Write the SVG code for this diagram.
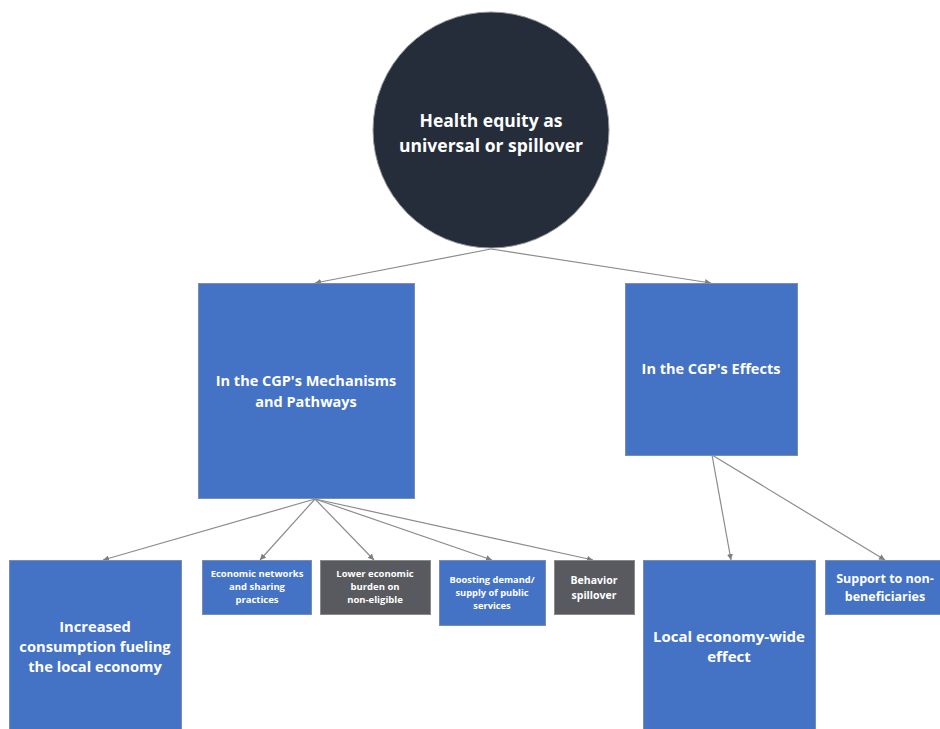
<svg xmlns="http://www.w3.org/2000/svg" width="940" height="729" viewBox="0 0 940 729">
  <style>
    .box { fill: #4472C4; stroke: #7f8ea8; stroke-width: 1; }
    .dark { fill: #595A5F; stroke: #8a8a8a; stroke-width: 1; }
    .t { font-family: "Open Sans", "Noto Sans", "Liberation Sans", sans-serif; font-weight: bold; fill: #ffffff; text-anchor: middle; }
    .edge { stroke: #8c8c8c; stroke-width: 1.2; fill: none; marker-end: url(#arrow); }
  </style>
  <defs>
    <marker id="arrow" viewBox="0 0 10 10" refX="10" refY="5" markerWidth="6" markerHeight="6" markerUnits="userSpaceOnUse" orient="auto">
      <path d="M0,0 L10,5 L0,10 z" fill="#7f7f7f"/>
    </marker>
  </defs>
  <rect width="940" height="729" fill="#ffffff"/>

  <g id="connectors">
    <line class="edge" x1="491" y1="249" x2="315" y2="283"/>
    <line class="edge" x1="491" y1="249" x2="711" y2="283"/>
    <line class="edge" x1="315" y1="499" x2="103" y2="560"/>
    <line class="edge" x1="315" y1="499" x2="260" y2="560"/>
    <line class="edge" x1="315" y1="499" x2="374" y2="560"/>
    <line class="edge" x1="315" y1="499" x2="492" y2="560"/>
    <line class="edge" x1="315" y1="499" x2="593" y2="560"/>
    <line class="edge" x1="712" y1="455" x2="731" y2="560"/>
    <line class="edge" x1="712" y1="455" x2="885" y2="560"/>
  </g>

  <g id="root">
    <circle cx="491" cy="130" r="118" fill="#252D3B" stroke="#9a9a9a" stroke-width="1"/>
    <text class="t" x="491" y="127" font-size="17.5">Health equity as</text>
    <text class="t" x="491" y="152" font-size="17.5">universal or spillover</text>
  </g>

  <g id="mechanisms">
    <rect class="box" x="198.5" y="283.5" width="216" height="215"/>
    <text class="t" x="306" y="386" font-size="14.5">In the CGP's Mechanisms</text>
    <text class="t" x="306" y="407" font-size="14.5">and Pathways</text>
  </g>

  <g id="effects">
    <rect class="box" x="625.5" y="283.5" width="172" height="172"/>
    <text class="t" x="711" y="374" font-size="14.5">In the CGP's Effects</text>
  </g>

  <g id="consumption">
    <rect class="box" x="9.5" y="560.5" width="172" height="172"/>
    <text class="t" x="95" y="632" font-size="14.7">Increased</text>
    <text class="t" x="95" y="652" font-size="14.7">consumption fueling</text>
    <text class="t" x="95" y="672" font-size="14.7">the local economy</text>
  </g>

  <g id="networks">
    <rect class="box" x="202.5" y="560.5" width="109" height="54"/>
    <text class="t" x="257" y="577" font-size="9.5">Economic networks</text>
    <text class="t" x="257" y="590" font-size="9.5">and sharing</text>
    <text class="t" x="257" y="603" font-size="9.5">practices</text>
  </g>

  <g id="burden">
    <rect class="dark" x="320.5" y="560.5" width="110" height="54"/>
    <text class="t" x="375" y="577" font-size="9.5">Lower economic</text>
    <text class="t" x="375" y="590" font-size="9.5">burden on</text>
    <text class="t" x="375" y="603" font-size="9.5">non-eligible</text>
  </g>

  <g id="services">
    <rect class="box" x="439.5" y="560.5" width="106" height="65"/>
    <text class="t" x="492" y="583" font-size="9.3">Boosting demand/</text>
    <text class="t" x="492" y="596" font-size="9.3">supply of public</text>
    <text class="t" x="492" y="609" font-size="9.3">services</text>
  </g>

  <g id="behavior">
    <rect class="dark" x="554.5" y="560.5" width="80" height="54"/>
    <text class="t" x="594" y="584" font-size="10.5">Behavior</text>
    <text class="t" x="594" y="599" font-size="10.5">spillover</text>
  </g>

  <g id="local">
    <rect class="box" x="643.5" y="560.5" width="172" height="172"/>
    <text class="t" x="729" y="642" font-size="15">Local economy-wide</text>
    <text class="t" x="729" y="662" font-size="15">effect</text>
  </g>

  <g id="support">
    <rect class="box" x="825.5" y="560.5" width="120" height="54"/>
    <text class="t" x="885" y="583" font-size="12.5">Support to non-</text>
    <text class="t" x="885" y="601" font-size="12.5">beneficiaries</text>
  </g>
</svg>
